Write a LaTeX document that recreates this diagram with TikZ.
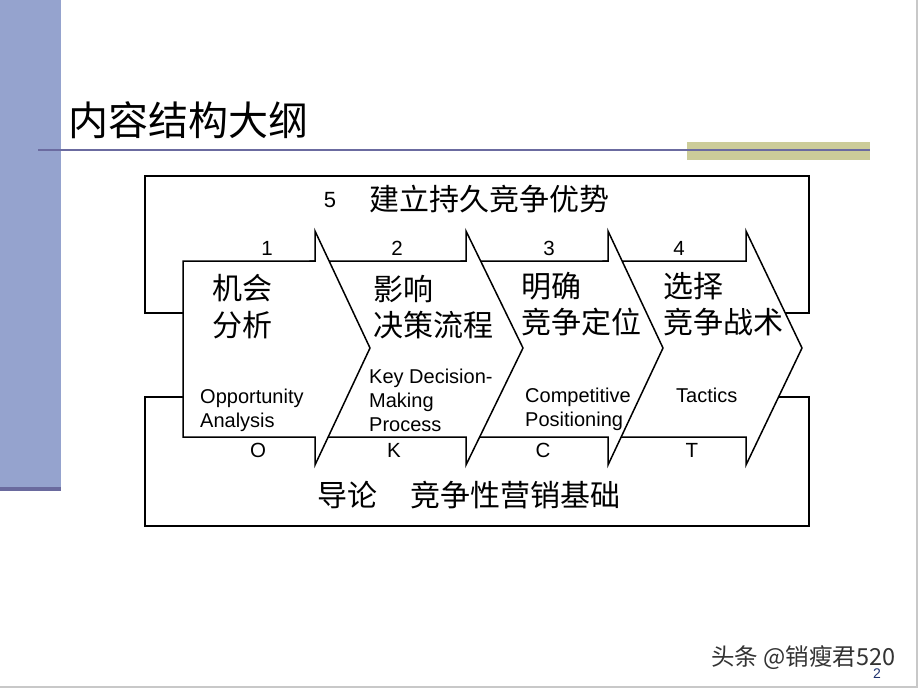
\documentclass[tikz,border=0pt]{standalone}
\usepackage{fontspec}
\setmainfont{Liberation Sans}
\newfontfamily\cjk{Noto Sans CJK SC}
\definecolor{sidebar}{RGB}{149,163,206}
\definecolor{sidebarDark}{RGB}{106,106,158}
\definecolor{ruleBlue}{RGB}{107,107,160}
\definecolor{olive}{RGB}{204,204,153}
\definecolor{frameGray}{RGB}{200,200,200}
\definecolor{pageNum}{RGB}{30,50,110}
\tikzset{
  bracketline/.style={line width=2pt, black},
  arrowbox/.style={draw=black, line width=1.5pt, fill=white, line join=miter},
  zh/.style={anchor=base west, inner sep=0pt, font=\cjk\fontsize{30}{30}\selectfont},
  en/.style={anchor=base west, inner sep=0pt, font=\fontsize{20}{20}\selectfont},
  num/.style={anchor=base, inner sep=0pt, font=\fontsize{20.5}{20.5}\selectfont},
}
\begin{document}
\begin{tikzpicture}[x=1pt,y=-1pt]
\useasboundingbox (0,0) rectangle (918,689);
% slide decoration
\fill[sidebar] (0,0) rectangle (61,487);
\fill[sidebarDark] (0,487) rectangle (61,491);
\fill[olive] (687,142) rectangle (870,160);
\draw[ruleBlue, line width=2pt] (38,150) -- (870,150);
\draw[frameGray, line width=2pt] (917,0) -- (917,687) -- (0,687);
% title
\node[anchor=base west, inner sep=0pt, font=\cjk\fontsize{40}{40}\selectfont] (title) at (68,135) {内容结构大纲};
% brackets
\coordinate (tl) at (145,176);
\coordinate (tr) at (809,176);
\coordinate (bl) at (145,526);
\coordinate (br) at (809,526);
\draw[bracketline] (200,313) -- (145,313) -- (tl) -- (tr) -- (809,313) -- (765,313);
\draw[bracketline] (200,397) -- (145,397) -- (bl) -- (br) -- (809,397) -- (765,397);
% block arrows (drawn right to left so each covers the next one's tail)
\foreach \L/\N/\T in {603/746/802, 461/608/663, 310/466/523, 183/315/370}{
  \draw[arrowbox] (\L,261) -- (\N,261) -- (\N,231) -- (\T,348) -- (\N,465) -- (\N,437) -- (\L,437) -- cycle;
}
% top label
\node[anchor=base, inner sep=0pt, font=\fontsize{22}{22}\selectfont] (five) at (330,207) {5};
\node[zh] (top) at (369,210) {建立持久竞争优势};
% numbers
\node[num] (n1) at (267,255) {1};
\node[num] (n2) at (397,255) {2};
\node[num] (n3) at (549,255) {3};
\node[num] (n4) at (679,255) {4};
\node[num] (lO) at (258,457) {O};
\node[num] (lK) at (394,457) {K};
\node[num] (lC) at (543,457) {C};
\node[num] (lT) at (692,457) {T};
% arrow 1
\node[zh] (a1a) at (212,299) {机会};
\node[zh] (a1b) at (212,336) {分析};
\node[en] (a1c) at (200,403) {Opportunity};
\node[en] (a1d) at (200,427) {Analysis};
% arrow 2
\node[zh] (a2a) at (373,300) {影响};
\node[zh] (a2b) at (373,336) {决策流程};
\node[en] (a2c) at (369,383) {Key Decision-};
\node[en] (a2d) at (369,407) {Making};
\node[en] (a2e) at (369,431) {Process};
% arrow 3
\node[zh] (a3a) at (521,297) {明确};
\node[zh] (a3b) at (521,333) {竞争定位};
\node[en] (a3c) at (525,402) {Competitive};
\node[en] (a3d) at (525,426) {Positioning};
% arrow 4
\node[zh] (a4a) at (663,297) {选择};
\node[zh] (a4b) at (663,333) {竞争战术};
\node[en] (a4c) at (676,402) {Tactics};
% bottom label
\node[zh] (bot) at (317,506) {导论\hspace{1.1em}竞争性营销基础};
% watermark and page number
\node[anchor=base west, inner sep=0pt, font=\cjk\fontsize{23.5}{23.5}\selectfont, text=black!80] (wm) at (711,665) {头条 @销瘦君520};
\node[anchor=base, inner sep=0pt, font=\fontsize{14}{14}\selectfont, text=pageNum] (pg) at (877,678) {2};
\end{tikzpicture}
\end{document}
